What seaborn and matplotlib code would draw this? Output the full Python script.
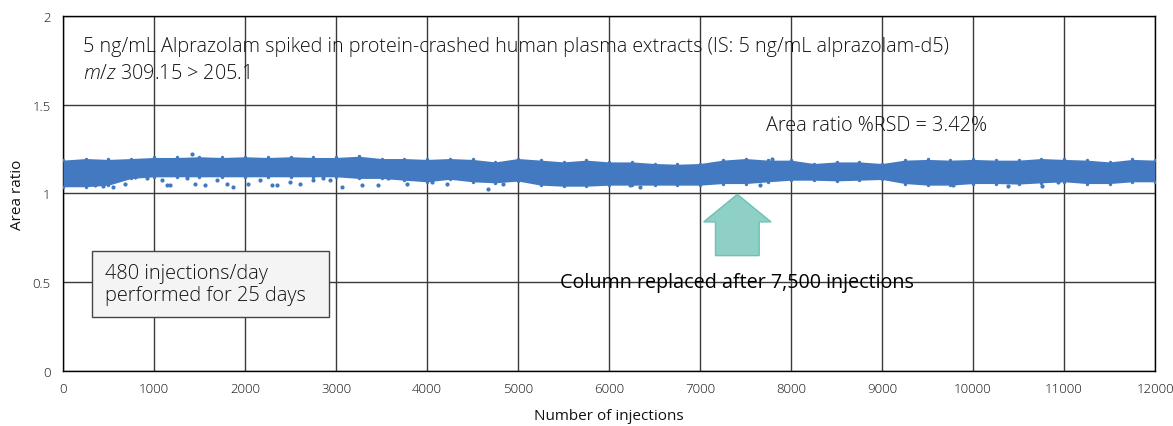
import numpy as np
import pandas as pd
import matplotlib
matplotlib.use("Agg")
import matplotlib.pyplot as plt
import seaborn as sns
from matplotlib.patches import Polygon, FancyBboxPatch

# injections sampled every 250 along the run
injections = list(range(0, 12001, 250))

# upper edge of the dense band of points
band_upper = [1.188, 1.197, 1.192, 1.197, 1.203, 1.203, 1.207, 1.203, 1.207, 1.203, 1.207, 1.203, 1.203,
              1.210, 1.197, 1.197, 1.192, 1.197, 1.192, 1.178, 1.197, 1.188, 1.178, 1.188, 1.178,
              1.178, 1.169, 1.165, 1.169, 1.188, 1.197, 1.188, 1.188, 1.169, 1.178, 1.178, 1.169,
              1.188, 1.192, 1.188, 1.192, 1.188, 1.188, 1.197, 1.192, 1.188, 1.178, 1.192, 1.188]

# lower edge of the dense band
band_lower = [1.038, 1.038, 1.047, 1.085, 1.094, 1.094, 1.094, 1.094, 1.094, 1.094, 1.094, 1.094, 1.094,
              1.085, 1.085, 1.075, 1.066, 1.080, 1.066, 1.060, 1.070, 1.047, 1.041, 1.041, 1.047,
              1.047, 1.047, 1.047, 1.047, 1.056, 1.056, 1.066, 1.075, 1.075, 1.071, 1.075, 1.079,
              1.056, 1.047, 1.047, 1.056, 1.056, 1.053, 1.060, 1.066, 1.056, 1.056, 1.066, 1.066]

# scattered single points outside the dense band
outlier_x = [352, 443, 553, 681, 791, 919, 1084, 1139, 1176, 1359, 1414, 1451, 1560, 1689, 1799, 1872,
             2037, 2165, 2293, 2348, 2495, 2604, 2751, 2861, 2934, 3062, 3282, 3465, 3575, 3776,
             4051, 4216, 4674, 4839, 6231, 6341, 7659, 7788, 9784, 10388, 10755, 10938]
outlier_y = [1.047, 1.041, 1.038, 1.056, 1.094, 1.085, 1.075, 1.047, 1.047, 1.085, 1.222, 1.056, 1.047,
             1.075, 1.056, 1.038, 1.056, 1.075, 1.047, 1.047, 1.066, 1.056, 1.075, 1.085, 1.075,
             1.038, 1.047, 1.047, 1.085, 1.056, 1.066, 1.056, 1.028, 1.056, 1.047, 1.038, 1.047,
             1.197, 1.047, 1.041, 1.041, 1.066]

x_ticks = list(range(0, 12001, 1000))
y_ticks = [0, 0.5, 1, 1.5, 2]

sns.set_theme(style="white")
plt.rcParams['font.family'] = ['Open Sans', 'DejaVu Sans']
plt.rcParams['font.weight'] = 'light'
plt.rcParams['mathtext.fontset'] = 'custom'
plt.rcParams['mathtext.it'] = 'Open Sans:italic:light'
plt.rcParams['mathtext.rm'] = 'Open Sans:light'

blue = "#4279c0"
grid_col = "#3a3a3a"
txt_col = "#111111"

fig = plt.figure(figsize=(11.73, 4.27), dpi=100)
ax = fig.add_axes([0.0537, 0.1288, 0.9310, 0.8314])

band = pd.DataFrame({"x": injections, "upper": band_upper, "lower": band_lower})
ax.fill_between(band["x"], band["lower"], band["upper"], color=blue, lw=0, zorder=3)
sns.scatterplot(x=band["x"], y=band["upper"], color=blue, s=6, linewidth=0, ax=ax, zorder=3)
sns.scatterplot(x=band["x"], y=band["lower"], color=blue, s=6, linewidth=0, ax=ax, zorder=3)
sns.scatterplot(x=outlier_x, y=outlier_y, color=blue, s=9, linewidth=0, ax=ax, zorder=3)

ax.set_xlim(0, 12000)
ax.set_ylim(0, 2)
ax.set_xticks(x_ticks)
ax.set_xticklabels([str(t) for t in x_ticks])
ax.set_yticks(y_ticks)
ax.set_yticklabels(["0", "0.5", "1", "1.5", "2"])
ax.grid(True, color=grid_col, lw=1)
ax.set_axisbelow(True)
for s in ax.spines.values():
    s.set_color("black")
    s.set_linewidth(1)
ax.tick_params(axis="both", length=0, labelsize=9.5, colors=txt_col)
ax.tick_params(axis="x", pad=8)
ax.tick_params(axis="y", pad=9)
ax.set_xlabel("Number of injections", fontsize=11, labelpad=9, color=txt_col)
ax.set_ylabel("Area ratio", fontsize=11, labelpad=5, color=txt_col)

# annotations
ax.text(225, 1.83, "5 ng/mL Alprazolam spiked in protein-crashed human plasma extracts (IS: 5 ng/mL alprazolam-d5)",
        fontsize=14.2, va="center", ha="left", color=txt_col, zorder=5)
ax.text(225, 1.68, r"$\it{m/z}$ 309.15 > 205.1", fontsize=14.2, va="center", ha="left",
        color=txt_col, zorder=5)
ax.text(7730, 1.385, "Area ratio %RSD = 3.42%", fontsize=14.3, va="center", ha="left",
        color=txt_col, zorder=5)

box = FancyBboxPatch((320, 0.305), 2600, 0.37, boxstyle="square,pad=0",
                     facecolor="#f4f4f4", edgecolor="#444444", lw=1, zorder=4)
ax.add_patch(box)
ax.text(460, 0.49, "480 injections/day\nperformed for 25 days", fontsize=14.4,
        va="center", ha="left", linespacing=1.1, color=txt_col, zorder=5)

# up arrow marking the column change
arrow = Polygon([(7170, 0.65), (7170, 0.84), (7040, 0.84), (7410, 0.995),
                 (7780, 0.84), (7650, 0.84), (7650, 0.65)],
                closed=True, facecolor="#8fd0c6", edgecolor="#6fc0b5", lw=1, zorder=5)
ax.add_patch(arrow)
ax.text(5460, 0.5, "Column replaced after 7,500 injections", fontsize=14.2,
        fontweight="normal", va="center", ha="left", color="black", zorder=5)

fig.savefig("out.png", dpi=100)
